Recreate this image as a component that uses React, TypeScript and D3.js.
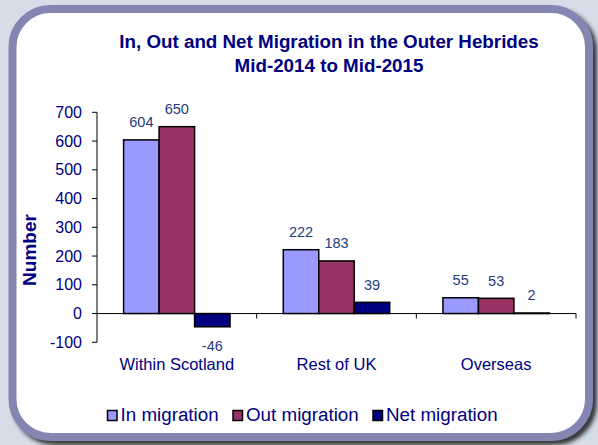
import * as d3 from 'd3';

const categories = ['Within Scotland', 'Rest of UK', 'Overseas'];
const seriesNames = ['In migration', 'Out migration', 'Net migration'];
const inMigration = [604, 222, 55];
const outMigration = [650, 183, 53];
const netMigration = [-46, 39, 2];
const yTicks = [-100, 0, 100, 200, 300, 400, 500, 600, 700];

const colors = ['#9999ff', '#993366', '#000080'];
const navy = '#000080';
const labelColor = '#1f3b7c';
const font = "Arial, 'Liberation Sans', sans-serif";

const W = 598;
const H = 445;

const App = () => {
  const values = [inMigration, outMigration, netMigration];

  const x = d3.scaleBand<string>().domain(categories).range([97, 576]).padding(0);
  const xs = d3
    .scaleBand<string>()
    .domain(seriesNames)
    .range([0, x.bandwidth()])
    .paddingInner(0)
    .paddingOuter(0.75);
  const y = d3.scaleLinear().domain([-100, 700]).range([342.3, 112.3]);
  const y0 = y(0);

  const bars = categories.flatMap((cat, ci) =>
    seriesNames.map((s, si) => {
      const v = values[si][ci];
      const bx = (x(cat) ?? 0) + (xs(s) ?? 0);
      const top = Math.min(y(v), y0);
      const h = Math.abs(y(v) - y0);
      return (
        <g key={`${cat}-${s}`}>
          <rect
            x={bx}
            y={top}
            width={xs.bandwidth()}
            height={h}
            fill={colors[si]}
            stroke='#000'
            strokeWidth={1.5}
          />
          <text
            x={bx + xs.bandwidth() / 2}
            y={v >= 0 ? y(v) - 12.5 : y(v) + 24.5}
            textAnchor='middle'
            fontSize={14.5}
            fill={labelColor}
          >
            {v}
          </text>
        </g>
      );
    })
  );

  const legendX = [107.5, 233, 373];

  return (
    <div style={{ position: 'absolute', left: 0, top: 0 }}>
      <svg width={W} height={H} fontFamily={font}>
        <defs>
          <filter id='shadow' x='-5%' y='-5%' width='115%' height='115%'>
            <feDropShadow dx='4' dy='4' stdDeviation='2' floodColor='#222' floodOpacity='0.9' />
          </filter>
        </defs>
        <rect x={0} y={0} width={W} height={H} fill='#d4dde8' />
        <rect
          x={12.5}
          y={9}
          width={576.5}
          height={428}
          rx={38}
          fill='#ffffff'
          stroke='#8486b2'
          strokeWidth={8}
          filter='url(#shadow)'
        />

        {/* title */}
        <text x={329} y={48} textAnchor='middle' fontSize={18.8} fontWeight='bold' fill={navy}>
          In, Out and Net Migration in the Outer Hebrides
        </text>
        <text x={329} y={72} textAnchor='middle' fontSize={18.8} fontWeight='bold' fill={navy}>
          Mid-2014 to Mid-2015
        </text>

        {/* y axis */}
        <text
          transform={`translate(36, 250) rotate(-90)`}
          textAnchor='middle'
          fontSize={19}
          fontWeight='bold'
          fill={navy}
        >
          Number
        </text>
        <line x1={97} x2={97} y1={y(700)} y2={y(-100)} stroke='#000' strokeWidth={1} />
        {yTicks.map((t) => (
          <g key={t}>
            <line x1={92} x2={97} y1={y(t)} y2={y(t)} stroke='#000' strokeWidth={1} />
            <text x={82} y={y(t) + 5.5} textAnchor='end' fontSize={16} fill={navy}>
              {t}
            </text>
          </g>
        ))}

        {bars}

        {/* x axis */}
        <line x1={97} x2={576} y1={y0} y2={y0} stroke='#000' strokeWidth={1} />
        {categories.map((c) => (
          <line
            key={c}
            x1={(x(c) ?? 0) + x.bandwidth()}
            x2={(x(c) ?? 0) + x.bandwidth()}
            y1={y0}
            y2={y0 + 5}
            stroke='#000'
            strokeWidth={1}
          />
        ))}
        {categories.map((c) => (
          <text
            key={c}
            x={(x(c) ?? 0) + x.bandwidth() / 2}
            y={369.5}
            textAnchor='middle'
            fontSize={16.5}
            fill={navy}
          >
            {c}
          </text>
        ))}

        {/* legend */}
        {seriesNames.map((s, i) => (
          <g key={s}>
            <rect
              x={legendX[i]}
              y={410.5}
              width={9.5}
              height={10}
              fill={colors[i]}
              stroke='#000'
              strokeWidth={1.5}
            />
            <text x={legendX[i] + 13} y={421} fontSize={18.8} fill={navy}>
              {s}
            </text>
          </g>
        ))}
      </svg>
    </div>
  );
};

export default App;
